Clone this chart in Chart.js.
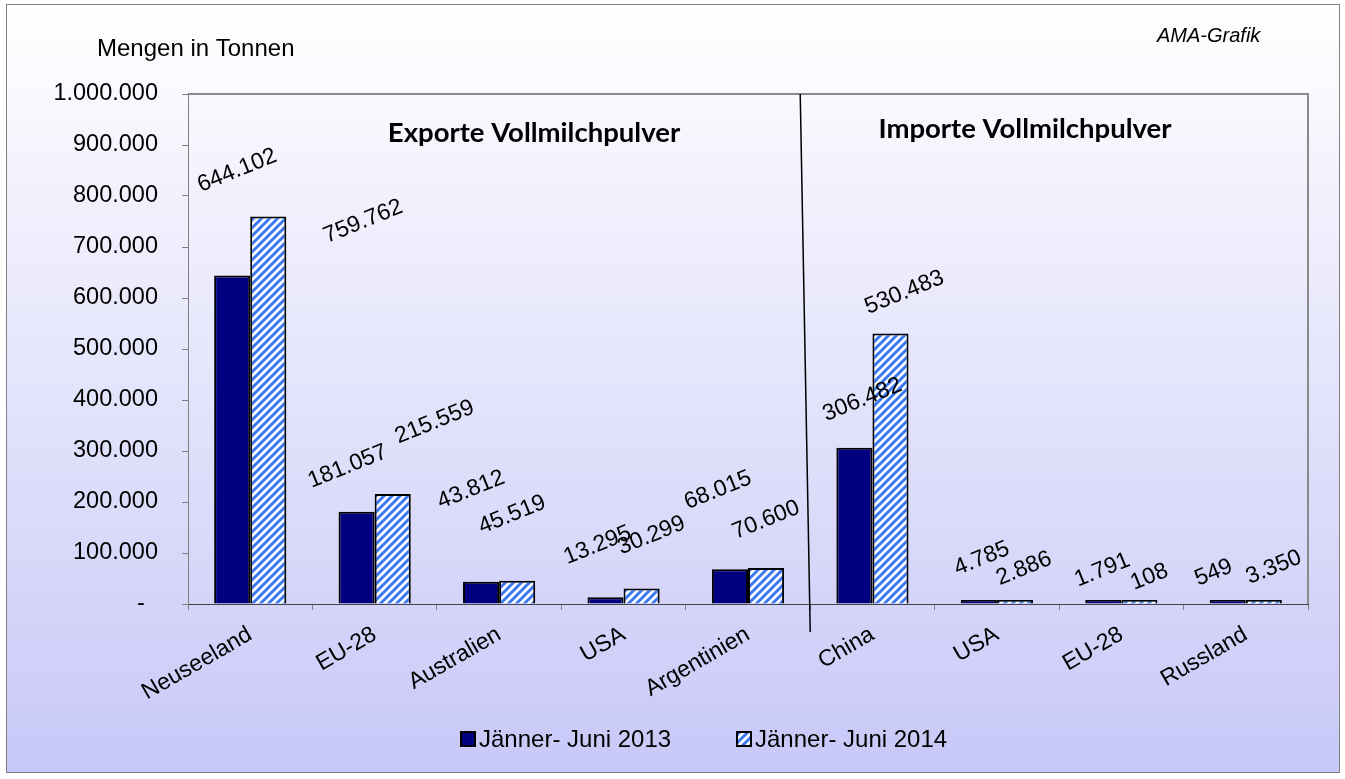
<!DOCTYPE html>
<html>
<head>
<meta charset="utf-8">
<script src="https://cdn.jsdelivr.net/npm/chart.js@4.4.1/dist/chart.umd.min.js"></script>
<style>
  html, body { margin: 0; padding: 0; background: #fff; }
  #wrap { width: 1345px; height: 779px; position: relative; }
</style>
</head>
<body>
<div id="wrap"><canvas id="c"></canvas></div>
<script>
// categories: 5 exporters, then 4 importers
const countries = ['Neuseeland', 'EU-28', 'Australien', 'USA', 'Argentinien', 'China', 'USA', 'EU-28', 'Russland'];
const seriesNames = ['Jänner- Juni 2013', 'Jänner- Juni 2014'];
const tonnes2013 = [644102, 181057, 43812, 13295, 68015, 306482, 4785, 1791, 549];
const tonnes2014 = [759762, 215559, 45519, 30299, 70600, 530483, 2886, 108, 3350];
const exportCount = 5;

// where each value label sits relative to the top of its bar
const labelShift2013 = [[5, -105], [-9, -45], [-10, -92], [-8, -52], [-12, -79], [8, -48], [3, -43], [-1, -33], [-14, -31]];
const labelShift2014 = [[95, 5], [42, -72], [-5, -66], [10, -53], [0, -48], [14, -41], [9, -34], [10, -27], [10, -35]];

const FONT = 'Liberation Sans, Arial, sans-serif';

function fmtDE(v) {
  return String(Math.round(v)).replace(/\B(?=(\d{3})+(?!\d))/g, '.');
}

function makeHatch() {
  const p = document.createElement('canvas');
  p.width = 8; p.height = 8;
  const g = p.getContext('2d');
  g.fillStyle = '#fff';
  g.fillRect(0, 0, 8, 8);
  g.strokeStyle = '#3a78f0';
  g.lineWidth = 3;
  g.beginPath();
  g.moveTo(-2, 10); g.lineTo(10, -2);
  g.moveTo(-2, 2); g.lineTo(2, -2);
  g.moveTo(6, 10); g.lineTo(10, 6);
  g.stroke();
  return g.createPattern(p, 'repeat');
}

const frame = {
  id: 'frame',
  beforeDraw(chart) {
    const ctx = chart.ctx;
    ctx.save();
    ctx.fillStyle = '#fff';
    ctx.fillRect(0, 0, chart.width, chart.height);
    const grd = ctx.createLinearGradient(0, 4, 0, 773);
    grd.addColorStop(0, '#ffffff');
    grd.addColorStop(1, '#c8c8f8');
    ctx.fillStyle = grd;
    ctx.fillRect(6, 4, 1334, 769);
    ctx.strokeStyle = '#808080';
    ctx.lineWidth = 1;
    ctx.strokeRect(6.5, 4.5, 1333, 768);
    ctx.restore();
  },
  afterDatasetsDraw(chart) {
    const ctx = chart.ctx;
    const a = chart.chartArea;
    ctx.save();
    // plot area border top / right
    ctx.strokeStyle = '#8a8a8a';
    ctx.lineWidth = 2;
    ctx.beginPath();
    ctx.moveTo(a.left, a.top);
    ctx.lineTo(a.right, a.top);
    ctx.lineTo(a.right, a.bottom);
    ctx.stroke();

    // value labels
    ctx.font = '23px ' + FONT;
    ctx.fillStyle = '#000';
    ctx.textAlign = 'center';
    ctx.textBaseline = 'middle';
    const shifts = [labelShift2013, labelShift2014];
    chart.data.datasets.forEach((ds, di) => {
      const meta = chart.getDatasetMeta(di);
      const y = chart.scales.y;
      meta.data.forEach((el, i) => {
        const s = shifts[di][i];
        ctx.save();
        ctx.translate(el.x + s[0], y.getPixelForValue(ds.data[i]) + s[1]);
        ctx.rotate(-22 * Math.PI / 180);
        ctx.fillText(fmtDE(ds.data[i]), 0, 0);
        ctx.restore();
      });
    });

    // separator between exports and imports
    const xs = chart.scales.x;
    const bx = (xs.getPixelForValue(exportCount - 1) + xs.getPixelForValue(exportCount)) / 2;
    ctx.strokeStyle = '#000';
    ctx.lineWidth = 1.5;
    ctx.beginPath();
    ctx.moveTo(bx - 10, a.top);
    ctx.lineTo(bx, a.bottom + 28);
    ctx.stroke();
    ctx.restore();
  },
  afterDraw(chart) {
    const ctx = chart.ctx;
    ctx.save();
    ctx.fillStyle = '#000';
    ctx.textBaseline = 'alphabetic';

    ctx.font = '24px ' + FONT;
    ctx.textAlign = 'left';
    ctx.fillText('Mengen in Tonnen', 97, 56);

    ctx.font = 'italic 20px ' + FONT;
    ctx.fillText('AMA-Grafik', 1157, 42);

    ctx.font = 'bold 27.5px Lato, sans-serif';
    ctx.textAlign = 'center';
    ctx.fillText('Exporte Vollmilchpulver', 534, 142);
    ctx.fillText('Importe Vollmilchpulver', 1025, 138);

    // legend
    ctx.font = '24px ' + FONT;
    ctx.textAlign = 'left';
    ctx.textBaseline = 'middle';
    const starts = [461, 737];
    chart.data.datasets.forEach((ds, i) => {
      const x = starts[i];
      ctx.fillStyle = ds.backgroundColor;
      ctx.fillRect(x, 732, 14, 14);
      ctx.strokeStyle = '#000';
      ctx.lineWidth = 2;
      ctx.strokeRect(x, 732, 14, 14);
      ctx.fillStyle = '#000';
      ctx.fillText(ds.label, x + 18, 740);
    });
    ctx.restore();
  }
};

new Chart(document.getElementById('c'), {
  type: 'bar',
  data: {
    labels: countries,
    datasets: [
      {
        label: seriesNames[0],
        data: tonnes2013,
        backgroundColor: '#000080',
        borderColor: '#000',
        borderWidth: 2,
        minBarLength: 4
      },
      {
        label: seriesNames[1],
        data: tonnes2014,
        backgroundColor: makeHatch(),
        borderColor: '#000',
        borderWidth: 2,
        minBarLength: 4
      }
    ]
  },
  options: {
    responsive: true,
    maintainAspectRatio: false,
    animation: false,
    devicePixelRatio: 1,
    layout: { padding: { left: 0, right: 37, top: 94, bottom: 0 } },
    datasets: { bar: { categoryPercentage: 0.58, barPercentage: 1 } },
    plugins: {
      legend: { display: false },
      title: { display: false },
      tooltip: { enabled: false }
    },
    scales: {
      x: {
        grid: { drawOnChartArea: false, drawTicks: true, tickLength: 6, color: '#808080', offset: true },
        border: { color: '#444', width: 1 },
        ticks: {
          font: { family: FONT, size: 23 },
          color: '#000',
          maxRotation: 30,
          minRotation: 30,
          autoSkip: false,
          padding: 11
        },
        afterFit(s) { s.height = 175; }
      },
      y: {
        min: 0,
        max: 1000000,
        grid: { drawOnChartArea: false, drawTicks: true, tickLength: 6, color: '#808080' },
        border: { color: '#808080', width: 1 },
        ticks: {
          stepSize: 100000,
          font: { family: FONT, size: 23.5 },
          color: '#000',
          padding: 24,
          callback: v => v === 0 ? '-  ' : fmtDE(v)
        },
        afterFit(s) { s.width = 188; }
      }
    }
  },
  plugins: [frame]
});
</script>
</body>
</html>
